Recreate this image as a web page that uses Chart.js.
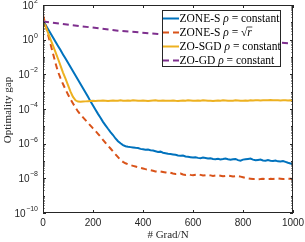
<!DOCTYPE html>
<html>
<head>
<meta charset="utf-8">
<script src="https://cdn.jsdelivr.net/npm/chart.js@4"></script>
<style>
  html, body { margin: 0; padding: 0; background: #fff; }
  #wrap { width: 305px; height: 242px; position: relative; }
</style>
</head>
<body>
<div id="wrap"><canvas id="gapChart"></canvas></div>
<script>
// iterations (# Grad/N)
const iters = [
  0, 10, 20, 30, 40, 50, 60, 70, 80, 90,
  100, 110, 120, 130, 140, 150, 160, 170, 180, 190,
  200, 210, 220, 230, 240, 250, 260, 270, 280, 290,
  300, 310, 320, 330, 340, 350, 360, 370, 380, 390,
  400, 410, 420, 430, 440, 450, 460, 470, 480, 490,
  500, 510, 520, 530, 540, 550, 560, 570, 580, 590,
  600, 610, 620, 630, 640, 650, 660, 670, 680, 690,
  700, 710, 720, 730, 740, 750, 760, 770, 780, 790,
  800, 810, 820, 830, 840, 850, 860, 870, 880, 890,
  900, 910, 920, 930, 940, 950, 960, 970, 980, 990,
  1000
];

// log10 of optimality gap
const zoneConstLog = [
  1.10, 0.86, 0.62, 0.37, 0.13, -0.12, -0.36, -0.60, -0.85, -1.09,
  -1.33, -1.58, -1.82, -2.07, -2.31, -2.56, -2.80, -3.05, -3.30, -3.56,
  -3.80, -4.04, -4.28, -4.50, -4.74, -4.94, -5.14, -5.33, -5.50, -5.70,
  -5.86, -5.98, -6.08, -6.15, -6.18, -6.20, -6.22, -6.24, -6.25, -6.30,
  -6.32, -6.35, -6.34, -6.38, -6.40, -6.44, -6.48, -6.46, -6.52, -6.55,
  -6.58, -6.60, -6.62, -6.64, -6.68, -6.70, -6.68, -6.74, -6.76, -6.78,
  -6.80, -6.78, -6.82, -6.84, -6.80, -6.83, -6.86, -6.84, -6.88, -6.90,
  -6.87, -6.91, -6.89, -6.86, -6.90, -6.93, -6.90, -6.88, -6.95, -6.98,
  -6.92, -6.90, -6.88, -6.86, -6.92, -6.96, -6.94, -6.92, -6.97, -6.99,
  -6.95, -6.98, -7.00, -6.97, -7.02, -7.03, -7.00, -7.05, -7.10, -7.14,
  -7.18
];
const zoneSqrtLog = [
  1.42, 0.85, 0.30, -0.25, -0.80, -1.35, -1.85, -2.22, -2.56, -2.87,
  -3.16, -3.43, -3.68, -3.92, -4.14, -4.32, -4.48, -4.64, -4.80, -4.96,
  -5.12, -5.27, -5.43, -5.60, -5.78, -5.95, -6.12, -6.28, -6.45, -6.62,
  -6.78, -6.94, -7.05, -7.13, -7.19, -7.24, -7.28, -7.32, -7.36, -7.40,
  -7.43, -7.47, -7.50, -7.53, -7.56, -7.60, -7.62, -7.60, -7.63, -7.66,
  -7.64, -7.68, -7.72, -7.75, -7.74, -7.72, -7.78, -7.80, -7.77, -7.80,
  -7.82, -7.79, -7.76, -7.80, -7.84, -7.82, -7.80, -7.83, -7.86, -7.84,
  -7.82, -7.85, -7.88, -7.86, -7.84, -7.87, -7.90, -7.88, -7.86, -7.90,
  -7.94, -7.98, -8.00, -8.02, -8.04, -8.03, -8.05, -8.04, -8.02, -8.04,
  -8.05, -8.03, -8.04, -8.02, -8.00, -8.02, -8.04, -8.03, -8.02, -8.03,
  -8.04
];
const zoSgdLog = [
  1.10, 0.75, 0.40, 0.02, -0.35, -0.72, -1.10, -1.50, -1.90, -2.25,
  -2.62, -3.00, -3.30, -3.50, -3.57, -3.58, -3.57, -3.56, -3.55, -3.54,
  -3.53, -3.54, -3.52, -3.53, -3.51, -3.52, -3.54, -3.52, -3.51, -3.53,
  -3.52, -3.50, -3.52, -3.53, -3.51, -3.52, -3.50, -3.51, -3.53, -3.52,
  -3.51, -3.52, -3.54, -3.52, -3.51, -3.50, -3.52, -3.53, -3.51, -3.52,
  -3.53, -3.52, -3.51, -3.53, -3.54, -3.52, -3.51, -3.52, -3.50, -3.51,
  -3.52, -3.53, -3.51, -3.52, -3.50, -3.51, -3.52, -3.53, -3.54, -3.52,
  -3.51, -3.52, -3.50, -3.51, -3.52, -3.53, -3.52, -3.50, -3.51, -3.52,
  -3.53, -3.51, -3.52, -3.50, -3.51, -3.49, -3.50, -3.51, -3.50, -3.49,
  -3.50, -3.48, -3.49, -3.50, -3.49, -3.51, -3.50, -3.49, -3.51, -3.50,
  -3.52
];
const zoGdIters = [0, 150, 300, 460, 600, 800, 1000];
const zoGdLog = [1.05, 0.78, 0.52, 0.33, 0.17, -0.02, -0.22];

const xTicks = [0, 200, 400, 600, 800, 1000];
const yTickExps = [2, 0, -2, -4, -6, -8, -10];

const toPts = (xs, logs) => xs.map((x, i) => ({ x: x, y: Math.pow(10, logs[i]) }));

const axisColor = '#262626';
const sansFont = '"Liberation Sans", Arial, sans-serif';
const serifFont = '"Liberation Serif", "Times New Roman", serif';

// legend rows: name + right hand side of rho = ...
const legendRows = [
  { name: 'ZONE-S', rhs: 'constant' },
  { name: 'ZONE-S', rhs: 'sqrt' },
  { name: 'ZO-SGD', rhs: 'constant' },
  { name: 'ZO-GD', rhs: 'constant' }
];

const gapAxes = {
  id: 'gapAxes',
  afterDatasetsDraw(chart) {
    const ctx = chart.ctx;
    const a = chart.chartArea;
    const xs = chart.scales.x, ys = chart.scales.y;
    ctx.save();
    ctx.strokeStyle = axisColor;
    ctx.lineWidth = 1;

    // box
    ctx.strokeRect(Math.round(a.left) + 0.5, Math.round(a.top) + 0.5,
      Math.round(a.right - a.left) - 1, Math.round(a.bottom - a.top) - 1);

    // x ticks
    ctx.beginPath();
    xTicks.forEach(v => {
      const px = Math.round(xs.getPixelForValue(v)) + 0.5;
      ctx.moveTo(px, a.bottom); ctx.lineTo(px, a.bottom - 3);
      ctx.moveTo(px, a.top); ctx.lineTo(px, a.top + 3);
    });
    // y ticks (major every decade labelled, minor 2..9)
    for (let e = -10; e <= 2; e++) {
      const major = yTickExps.includes(e);
      const py = Math.round(ys.getPixelForValue(Math.pow(10, e))) + 0.5;
      const len = major ? 3 : 2;
      ctx.moveTo(a.left, py); ctx.lineTo(a.left + len, py);
      ctx.moveTo(a.right, py); ctx.lineTo(a.right - len, py);
      if (e < 2) {
        for (let m = 2; m <= 9; m++) {
          const pm = Math.round(ys.getPixelForValue(m * Math.pow(10, e))) + 0.5;
          ctx.moveTo(a.left, pm); ctx.lineTo(a.left + 1.5, pm);
          ctx.moveTo(a.right, pm); ctx.lineTo(a.right - 1.5, pm);
        }
      }
    }
    ctx.stroke();

    // tick labels
    ctx.fillStyle = axisColor;
    ctx.font = '10px ' + sansFont;
    ctx.textAlign = 'center';
    ctx.textBaseline = 'middle';
    xTicks.forEach(v => {
      ctx.fillText(String(v), xs.getPixelForValue(v), a.bottom + 10);
    });
    yTickExps.forEach(e => {
      const py = ys.getPixelForValue(Math.pow(10, e));
      ctx.font = '7px ' + sansFont;
      const exp = String(e).replace('-', '\u2212');
      const ew = ctx.measureText(exp).width;
      ctx.textAlign = 'right';
      ctx.fillText(exp, a.left - 5, py - 4);
      ctx.font = '10px ' + sansFont;
      ctx.fillText('10', a.left - 5 - ew - 0.5, py + 1);
    });

    // axis titles
    ctx.font = '11px ' + serifFont;
    ctx.textAlign = 'center';
    ctx.fillText('# Grad/N', (a.left + a.right) / 2, a.bottom + 22);
    ctx.save();
    ctx.translate(8, (a.top + a.bottom) / 2 + 1);
    ctx.rotate(-Math.PI / 2);
    ctx.fillText('Optimality gap', 0, 0);
    ctx.restore();

    // legend
    const lx = 162, ly = 10, lw = 119, lh = 57;
    const lf = '11.5px ' + serifFont;
    ctx.fillStyle = '#fff';
    ctx.fillRect(lx, ly, lw, lh);
    ctx.strokeStyle = axisColor;
    ctx.strokeRect(lx + 0.5, ly + 0.5, lw - 1, lh - 1);
    chart.data.datasets.forEach((ds, i) => {
      const y = ly + 8.5 + i * 14;
      ctx.strokeStyle = ds.borderColor;
      ctx.lineWidth = 2;
      ctx.setLineDash(ds.borderDash || []);
      ctx.beginPath();
      ctx.moveTo(lx + 1, y); ctx.lineTo(lx + 17, y);
      ctx.stroke();
      ctx.setLineDash([]);
      ctx.fillStyle = '#000';
      ctx.textAlign = 'left';
      ctx.textBaseline = 'middle';
      let tx = lx + 17.5;
      const row = legendRows[i];
      ctx.font = lf;
      ctx.fillText(row.name + ' ', tx, y);
      tx += ctx.measureText(row.name + ' ').width;
      ctx.font = 'italic ' + lf;
      ctx.fillText('\u03c1', tx, y);
      tx += ctx.measureText('\u03c1').width;
      ctx.font = lf;
      ctx.fillText(' = ', tx, y);
      tx += ctx.measureText(' = ').width;
      if (row.rhs === 'sqrt') {
        ctx.fillText('\u221a', tx, y);
        tx += ctx.measureText('\u221a').width;
        ctx.font = 'italic ' + lf;
        ctx.fillText('r', tx, y);
        const rw = ctx.measureText('r').width;
        ctx.strokeStyle = '#000';
        ctx.lineWidth = 0.7;
        ctx.beginPath();
        ctx.moveTo(tx - 0.5, y - 5.5); ctx.lineTo(tx + rw + 0.5, y - 5.5);
        ctx.stroke();
      } else {
        ctx.fillText(row.rhs, tx, y);
      }
    });
    ctx.restore();
  }
};

const ctx = document.getElementById('gapChart').getContext('2d');
const gapChart = new Chart(ctx, {
  type: 'line',
  data: {
    datasets: [{
      label: 'ZONE-S \u03c1 = constant',
      data: toPts(iters, zoneConstLog),
      borderColor: '#0072BD',
      borderWidth: 2,
      order: 4
    }, {
      label: 'ZONE-S \u03c1 = \u221ar',
      data: toPts(iters, zoneSqrtLog),
      borderColor: '#D95319',
      borderWidth: 2,
      borderDash: [6, 4],
      order: 3
    }, {
      label: 'ZO-SGD \u03c1 = constant',
      data: toPts(iters, zoSgdLog),
      borderColor: '#EDB120',
      borderWidth: 2,
      order: 2
    }, {
      label: 'ZO-GD \u03c1 = constant',
      data: toPts(zoGdIters, zoGdLog),
      borderColor: '#7E2F8E',
      borderWidth: 2,
      borderDash: [6, 4],
      order: 1
    }]
  },
  options: {
    responsive: true,
    maintainAspectRatio: false,
    animation: false,
    layout: { padding: { left: 43, right: 12, top: 5, bottom: 29 } },
    elements: { point: { radius: 0 }, line: { tension: 0 } },
    plugins: { legend: { display: false }, tooltip: { enabled: false } },
    scales: {
      x: { type: 'linear', min: 0, max: 1000, display: false },
      y: { type: 'logarithmic', min: 1e-10, max: 1e2, display: false }
    }
  },
  plugins: [gapAxes]
});
</script>
</body>
</html>
